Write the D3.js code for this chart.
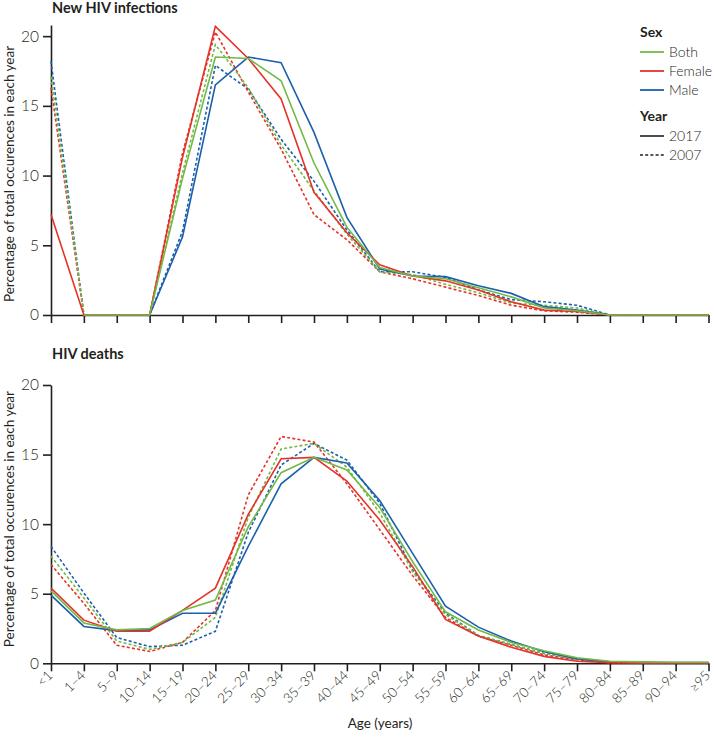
<!DOCTYPE html>
<html><head><meta charset="utf-8">
<script src="https://cdn.jsdelivr.net/npm/d3@7"></script>
<style>
body{margin:0;background:#fff;}
text{font-family:Lato,"Open Sans",sans-serif;fill:#231f20;}
</style></head>
<body><svg id="c" width="714" height="737"></svg>
<script>
const ageGroups = ["<1","1–4","5–9","10–14","15–19","20–24","25–29","30–34","35–39","40–44","45–49","50–54","55–59","60–64","65–69","70–74","75–79","80–84","85–89","90–94","≥95"];
const yTicks = [0,5,10,15,20];
const sexes = ["Both","Female","Male"];
const years = ["2017","2007"];

// New HIV infections (% of total occurrences in each year)
const inf2017Both   = [null,0,0,0,9.8,18.5,18.4,16.8,10.9,6.3,3.4,2.8,2.6,1.95,1.3,0.5,0.3,0,0,0,0];
const inf2017Female = [7.2,0,0,0,11.3,20.7,18.4,15.5,8.8,5.9,3.6,2.8,2.45,1.8,0.95,0.35,0.25,0,0,0,0];
const inf2017Male   = [null,0,0,0,5.6,16.5,18.5,18.1,13.1,7.0,3.3,2.8,2.75,2.1,1.55,0.6,0.35,0,0,0,0];
const inf2007Both   = [17.1,0,0,0,10.2,19.4,16.3,12.2,8.9,5.8,3.1,2.9,2.2,1.6,0.85,0.7,0.5,0,0,0,0];
const inf2007Female = [16.3,0,0,0,11.6,20.3,16.0,11.9,7.2,5.4,3.1,2.6,2.0,1.4,0.7,0.3,0.2,0,0,0,0];
const inf2007Male   = [18.2,0,0,0,6.0,17.9,16.2,12.6,9.6,6.1,3.1,3.1,2.7,1.8,1.1,0.95,0.7,0,0,0,0];

// HIV deaths
const dth2017Both   = [5.2,2.9,2.4,2.5,3.8,4.55,9.8,13.7,14.8,13.9,11.2,7.3,3.7,2.4,1.5,0.9,0.4,0.15,0.1,0.08,0.08];
const dth2017Female = [5.4,3.1,2.3,2.3,3.8,5.4,10.7,14.7,14.8,13.1,10.3,6.95,3.15,1.96,1.15,0.5,0.15,0.05,0.03,0.02,0.02];
const dth2017Male   = [4.9,2.65,2.35,2.4,3.6,3.6,8.4,12.9,14.8,14.4,11.7,7.9,4.1,2.6,1.6,0.83,0.33,0.1,0.05,0.05,0.05];
const dth2007Both   = [7.7,4.7,1.6,1.0,1.5,3.3,10.5,15.4,15.8,14.1,10.8,6.6,3.5,2.0,1.35,0.7,0.3,0.1,0.05,0.03,0.02];
const dth2007Female = [7.1,4.3,1.3,0.85,1.5,3.8,12.1,16.3,15.9,12.9,9.6,6.3,3.3,1.95,1.3,0.6,0.25,0.05,0.03,0.02,0.02];
const dth2007Male   = [8.4,5.05,1.85,1.2,1.3,2.3,9.4,14.25,15.8,14.6,11.5,6.7,3.6,2.0,1.35,0.7,0.3,0.1,0.05,0.03,0.02];

const colors = {Both:"#72b945", Female:"#e6332a", Male:"#1c5fab"};
const dashes = {"2017":null, "2007":"3,2.2"};

const panels = [
  {title:"New HIV infections", top:25, bottom:315, ymax:20.8, labels:false,
   series:[["2007","Male",inf2007Male],["2007","Female",inf2007Female],["2007","Both",inf2007Both],
           ["2017","Male",inf2017Male],["2017","Female",inf2017Female],["2017","Both",inf2017Both]]},
  {title:"HIV deaths", top:385, bottom:663.3, ymax:20, labels:true,
   series:[["2007","Male",dth2007Male],["2007","Female",dth2007Female],["2007","Both",dth2007Both],
           ["2017","Male",dth2017Male],["2017","Female",dth2017Female],["2017","Both",dth2017Both]]}
];

const svg = d3.select("#c");
const x = d3.scalePoint().domain(ageGroups).range([51, 708.5]);

panels.forEach(p => {
  const y = d3.scaleLinear().domain([0, p.ymax]).range([p.bottom, p.top]);
  const g = svg.append("g");

  const ya = g.append("g").attr("transform","translate(51,0)")
    .call(d3.axisLeft(y).tickValues(yTicks).tickSize(8).tickPadding(4).tickSizeOuter(0));
  ya.select(".domain").attr("stroke","#231f20").attr("stroke-width",1.6);
  ya.selectAll(".tick line").attr("stroke","#231f20").attr("stroke-width",1.6);
  ya.selectAll(".tick text").attr("font-size",15.5).attr("font-family","Lato").attr("fill","#231f20").attr("font-weight",300);

  const xa = g.append("g").attr("transform",`translate(0,${p.bottom})`)
    .call(d3.axisBottom(x).tickSize(8).tickSizeOuter(0));
  xa.select(".domain").attr("stroke","#231f20").attr("stroke-width",1.6);
  xa.selectAll(".tick line").attr("stroke","#231f20").attr("stroke-width",1.6);
  if (p.labels) {
    xa.selectAll(".tick text").attr("font-size",13.5).attr("font-family","Lato").attr("fill","#231f20")
      .attr("font-weight",300)
      .attr("text-anchor","end").attr("dy",0).attr("y",0)
      .attr("transform","translate(2,13) rotate(-45)");
  } else {
    xa.selectAll(".tick text").remove();
  }

  g.append("text").attr("x",52).attr("y",p.top - (p.labels ? 26 : 12)).attr("font-size",14.5)
    .attr("font-weight",700).text(p.title);

  g.append("text").attr("transform",`translate(14,${(p.top+p.bottom)/2 + (p.labels?-5:4)}) rotate(-90)`)
    .attr("text-anchor","middle").attr("font-size",13.5).text("Percentage of total occurences in each year");

  const line = d3.line().defined(d => d != null).x((d,i) => x(ageGroups[i])).y(d => y(d));
  p.series.forEach(([yr, sex, vals]) => {
    g.append("path").datum(vals).attr("d", line).attr("fill","none")
      .attr("stroke", colors[sex]).attr("stroke-width",1.6)
      .attr("stroke-dasharray", dashes[yr]).attr("stroke-linejoin","miter");
  });
});

svg.append("text").attr("x",380).attr("y",728).attr("text-anchor","middle").attr("font-size",13.5).text("Age (years)");

const lg = svg.append("g");
const lx = 640;
lg.append("text").attr("x",lx).attr("y",37).attr("font-size",14).attr("font-weight",700).text("Sex");
sexes.forEach((s,i) => {
  const yy = 52 + i*19;
  lg.append("line").attr("x1",lx).attr("x2",lx+24).attr("y1",yy).attr("y2",yy).attr("stroke",colors[s]).attr("stroke-width",1.8);
  lg.append("text").attr("x",lx+29).attr("y",yy+5).attr("font-size",14).attr("font-weight",300).text(s);
});
lg.append("text").attr("x",lx).attr("y",121).attr("font-size",14).attr("font-weight",700).text("Year");
years.forEach((yr,i) => {
  const yy = 136 + i*19;
  lg.append("line").attr("x1",lx).attr("x2",lx+24).attr("y1",yy).attr("y2",yy).attr("stroke","#231f20")
    .attr("stroke-width",1.6).attr("stroke-dasharray", dashes[yr]);
  lg.append("text").attr("x",lx+29).attr("y",yy+5).attr("font-size",14).attr("font-weight",300).text(yr);
});
</script></body></html>
